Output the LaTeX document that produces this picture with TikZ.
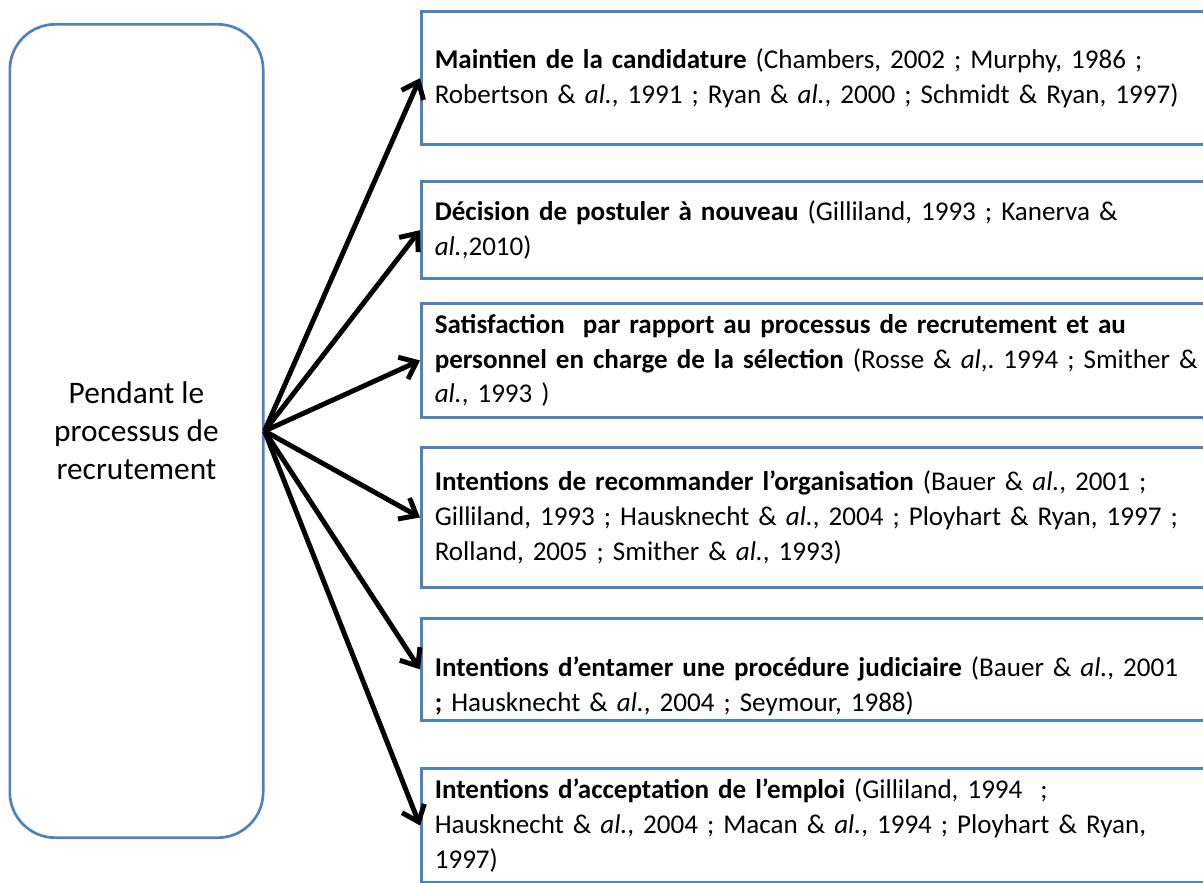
\documentclass[tikz,border=0pt]{standalone}
\usepackage{fontspec}
\setmainfont{Carlito}
\usepackage{xcolor}
\usetikzlibrary{arrows.meta, positioning}
\definecolor{frameblue}{RGB}{79,129,189}
\frenchspacing

\begin{document}
\begin{tikzpicture}[
  x=0.75pt, y=-0.75pt,
  phase/.style={rectangle, draw=frameblue, line width=2pt, rounded corners=34pt, minimum width=190pt, minimum height=610pt, align=center, font=\fontsize{23.5}{28.5}\selectfont},
  outcome/.style={rectangle, draw=frameblue, line width=2.2pt, fill=white, anchor=north west, text width=600pt, align=left, inner xsep=10pt, inner ysep=6pt, font=\fontsize{20.3}{26}\selectfont},
  arrow/.style={line width=3.7pt, -{Straight Barb[length=11pt, width=18pt]}}
]
\useasboundingbox (0,0) rectangle (1203,882);
\clip (0,0) rectangle (1203,882);

% Left phase
\node (phase) [phase] at (136.5,431) {Pendant le\\processus de\\recrutement};

% Outcomes
\node (keep) [outcome, minimum height=100pt] at (420,10) {\textbf{Maintien de la candidature} (Chambers, 2002 ; Murphy, 1986 ;\\Robertson \& \textit{al.}, 1991 ; Ryan \& \textit{al.}, 2000 ; Schmidt \& Ryan, 1997)};
\node (reapply) [outcome, minimum height=73pt] at (420,180) {\textbf{Décision de postuler à nouveau} (Gilliland, 1993 ; Kanerva \&\\\textit{al.},2010)};
\node (satisf) [outcome, minimum height=85.5pt] at (420,302) {\textbf{Satisfaction\ \ par rapport au processus de recrutement et au}\\\textbf{personnel en charge de la sélection} (Rosse \& \textit{al},. 1994 ; Smither \&\\\textit{al.}, 1993 )};
\node (recomm) [outcome, minimum height=105pt] at (420,446) {\textbf{Intentions de recommander l’organisation} (Bauer \& \textit{al.}, 2001 ;\\Gilliland, 1993 ; Hausknecht \& \textit{al.}, 2004 ; Ployhart \& Ryan, 1997 ;\\Rolland, 2005 ; Smither \& \textit{al.}, 1993)};
\node (judic) [outcome, inner ysep=3.5pt] at (420,617) {\rule{0pt}{40pt}\textbf{Intentions d’entamer une procédure judiciaire} (Bauer \& \textit{al.}, 2001\\\textbf{;} Hausknecht \& \textit{al.}, 2004 ; Seymour, 1988)};
\node (accept) [outcome, inner ysep=8pt] at (420,767) {\textbf{Intentions d’acceptation de l’emploi} (Gilliland, 1994\ \ ;\\Hausknecht \& \textit{al.}, 2004 ; Macan \& \textit{al.}, 1994 ; Ployhart \& Ryan,\\1997)};

% Arrows
\draw [arrow] (phase.east) -- (keep.west);
\draw [arrow] (phase.east) -- (reapply.west);
\draw [arrow] (phase.east) -- (satisf.west);
\draw [arrow] (phase.east) -- (recomm.west);
\draw [arrow] (phase.east) -- (judic.west);
\draw [arrow] (phase.east) -- (accept.west);
\end{tikzpicture}
\end{document}
